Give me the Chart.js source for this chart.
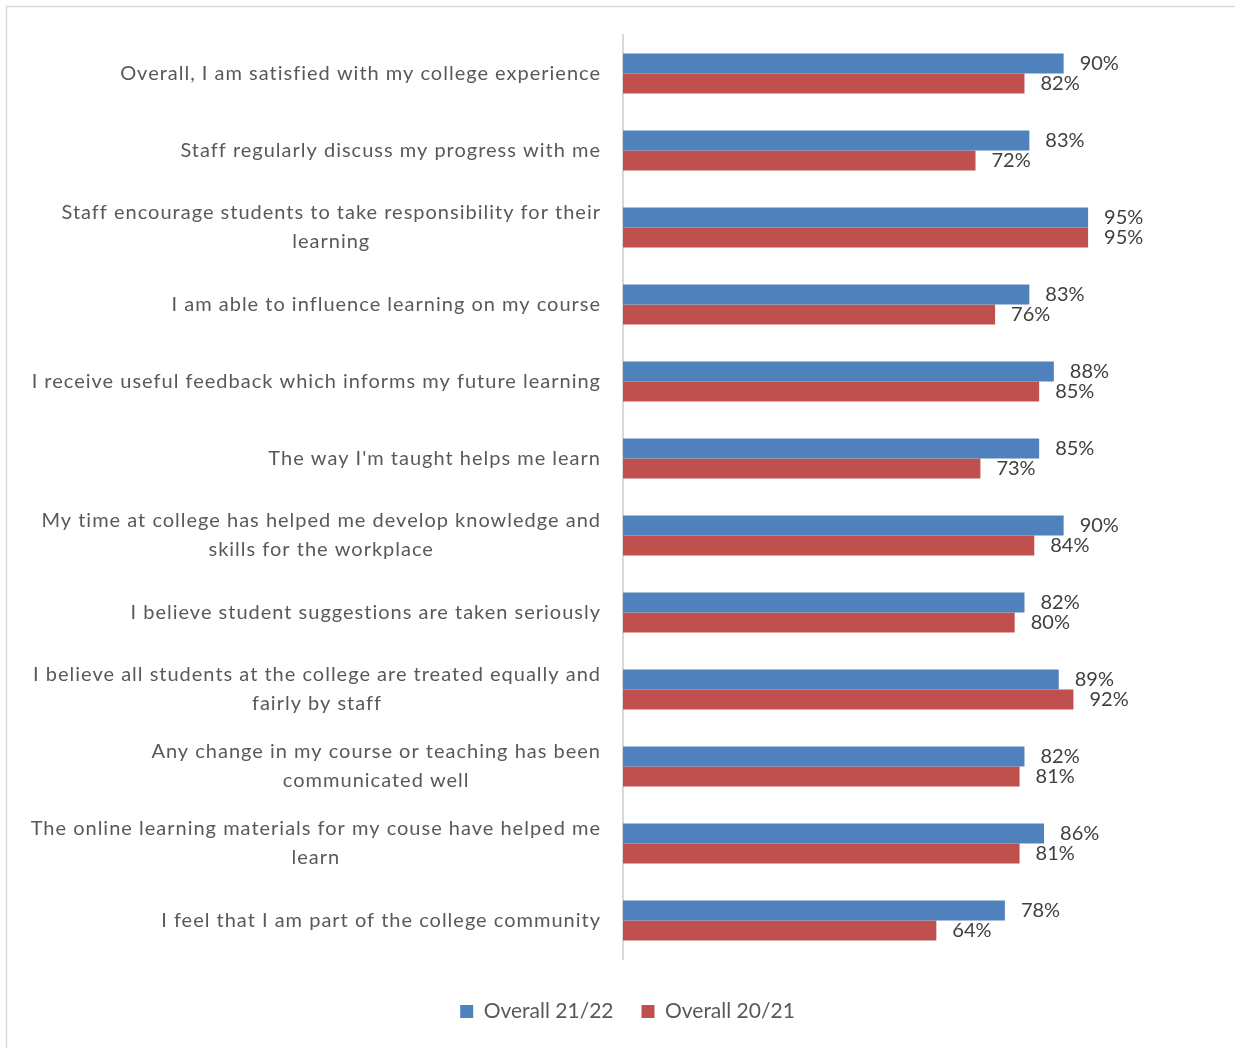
<!DOCTYPE html>
<html>
<head>
<meta charset="utf-8">
<title>Student survey</title>
<script src="https://cdn.jsdelivr.net/npm/chart.js@4/dist/chart.umd.min.js"></script>
<style>
    body { margin: 0; background: #fff; }
    canvas { display: block; }
</style>
</head>
<body>
<canvas id="survey" width="1235" height="1048"></canvas>
<script>
var questions = [
    ['Overall, I am satisfied with my college experience'],
    ['Staff regularly discuss my progress with me'],
    ['Staff encourage students to take responsibility for their', 'learning'],
    ['I am able to influence learning on my course'],
    ['I receive useful feedback which informs my future learning'],
    ["The way I'm taught helps me learn"],
    ['My time at college has helped me develop knowledge and', 'skills for the workplace'],
    ['I believe student suggestions are taken seriously'],
    ['I believe all students at the college are treated equally and', 'fairly by staff'],
    ['Any change in my course or teaching has been', 'communicated well'],
    ['The online learning materials for my couse have helped me', 'learn'],
    ['I feel that I am part of the college community']
];
var overall2122 = [90, 83, 95, 83, 88, 85, 90, 82, 89, 82, 86, 78];
var overall2021 = [82, 72, 95, 76, 85, 73, 84, 80, 92, 81, 81, 64];

var FONT = 'Lato, "Open Sans", sans-serif';
var BLUE = '#4f81bd';
var RED = '#c0504d';

// light frame round the chart
var framePlugin = {
    id: 'frame',
    beforeDraw: function(chart) {
        var ctx = chart.ctx;
        ctx.save();
        ctx.strokeStyle = '#d9d9d9';
        ctx.lineWidth = 1.5;
        ctx.beginPath();
        ctx.moveTo(6.5, chart.height);
        ctx.lineTo(6.5, 6.5);
        ctx.lineTo(chart.width, 6.5);
        ctx.stroke();
        ctx.restore();
    }
};

// category labels, right aligned, wrapped lines centred on each other
var questionLabels = {
    id: 'questionLabels',
    afterDraw: function(chart) {
        var ctx = chart.ctx;
        var yScale = chart.scales.y;
        var right = chart.chartArea.left - 22;
        ctx.save();
        ctx.font = '20px ' + FONT;
        ctx.letterSpacing = '1px';
        ctx.fillStyle = '#595959';
        ctx.textAlign = 'center';
        ctx.textBaseline = 'middle';
        questions.forEach(function(lines, i) {
            var w = 0;
            lines.forEach(function(l) { w = Math.max(w, ctx.measureText(l).width); });
            var cx = right - w / 2;
            var cy = yScale.getPixelForValue(i);
            var top = cy - (lines.length - 1) * 29 / 2;
            lines.forEach(function(l, k) {
                ctx.fillText(l, cx, top + k * 29);
            });
        });
        ctx.restore();
    }
};

// percentage labels at the end of each bar
var valueLabels = {
    id: 'valueLabels',
    afterDatasetsDraw: function(chart) {
        var ctx = chart.ctx;
        ctx.save();
        ctx.font = '20px ' + FONT;
        ctx.fillStyle = '#404040';
        ctx.textAlign = 'left';
        ctx.textBaseline = 'middle';
        chart.data.datasets.forEach(function(ds, d) {
            chart.getDatasetMeta(d).data.forEach(function(bar, i) {
                ctx.fillText(ds.data[i] + '%', bar.x + 16, bar.y);
            });
        });
        ctx.restore();
    }
};

var chart = new Chart(document.getElementById('survey'), {
    type: 'bar',
    data: {
        labels: questions,
        datasets: [
            {
                label: 'Overall 21/22',
                data: overall2122,
                backgroundColor: BLUE,
                borderWidth: 0
            },
            {
                label: 'Overall 20/21',
                data: overall2021,
                backgroundColor: RED,
                borderWidth: 0
            }
        ]
    },
    options: {
        indexAxis: 'y',
        responsive: false,
        animation: false,
        datasets: {
            bar: { categoryPercentage: 0.52, barPercentage: 1 }
        },
        layout: {
            padding: { left: 20, right: 0, top: 35, bottom: 16 }
        },
        scales: {
            x: {
                min: 0,
                max: 125,
                ticks: { display: false },
                grid: { display: false },
                border: { display: false },
                afterFit: function(scale) { scale.height = 14; }
            },
            y: {
                ticks: { display: false },
                grid: { display: false },
                border: { display: true, color: '#d9d9d9', width: 2 },
                afterFit: function(scale) { scale.width = 603; }
            }
        },
        plugins: {
            tooltip: { enabled: false },
            legend: {
                position: 'bottom',
                labels: {
                    boxWidth: 13,
                    boxHeight: 13,
                    padding: 28,
                    color: '#595959',
                    font: { family: FONT, size: 21 }
                }
            }
        }
    },
    plugins: [framePlugin, questionLabels, valueLabels]
});
</script>
</body>
</html>
